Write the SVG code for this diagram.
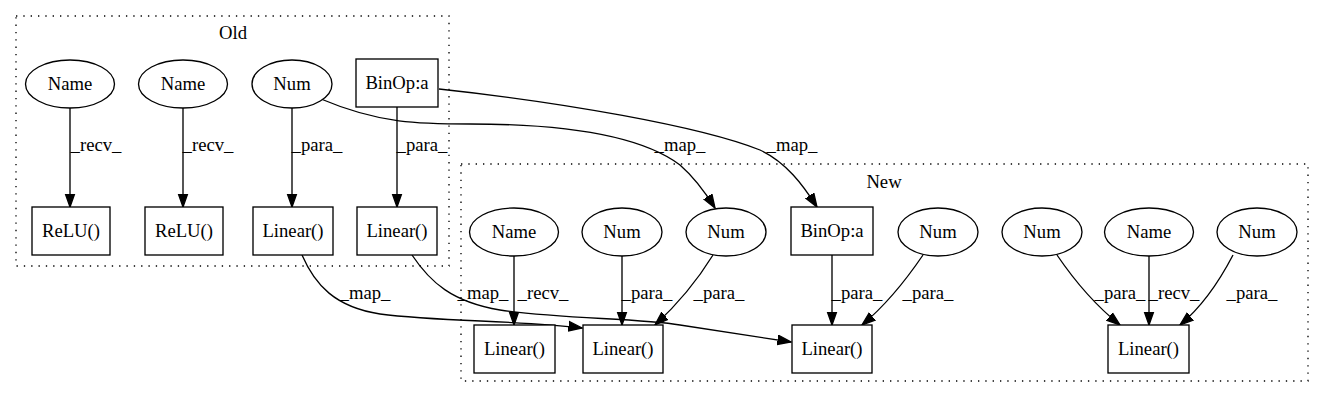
<svg xmlns="http://www.w3.org/2000/svg" width="1324" height="400" viewBox="0 0 1324 400">
<style>
.n{fill:#fff;stroke:#000;stroke-width:1.33}
.cl{fill:none;stroke:#000;stroke-width:1.33;stroke-dasharray:1.33,6}
.e{fill:none;stroke:#000;stroke-width:1.33;marker-end:url(#ah)}
</style>
<defs>
<marker id="ah" markerUnits="userSpaceOnUse" markerWidth="16" markerHeight="12" viewBox="-13.5 -6 16 12" refX="0" refY="0" orient="auto">
<path d="M-13.3,-4.7 L0,0 L-13.3,4.7 Z" fill="#000" stroke="#000" stroke-width="1.33"/>
</marker>
</defs>
<rect width="1324" height="400" fill="#fff"/>
<g id="cluster_old">
<rect class="cl" x="16" y="16" width="433" height="250"/>
<text x="233" y="39" font-family="Liberation Serif" font-size="18.67" text-anchor="middle">Old</text>
</g>
<g id="cluster_new">
<rect class="cl" x="461" y="164" width="847" height="217"/>
<text x="884" y="188" font-family="Liberation Serif" font-size="18.67" text-anchor="middle">New</text>
</g>
<g id="connectors">
<path class="e" d="M70,108 L70,207"/>
<text x="96" y="151" font-family="Liberation Serif" font-size="18.67" text-anchor="middle">_recv_</text>
<path class="e" d="M183,108 L183,207"/>
<text x="208" y="151" font-family="Liberation Serif" font-size="18.67" text-anchor="middle">_recv_</text>
<path class="e" d="M292,108 L292,207"/>
<text x="317" y="151" font-family="Liberation Serif" font-size="18.67" text-anchor="middle">_para_</text>
<path class="e" d="M397,107 L397,207"/>
<text x="422" y="151" font-family="Liberation Serif" font-size="18.67" text-anchor="middle">_para_</text>
<path class="e" d="M321,99 C380,124 420,124 470,124 C560,124 640,135 680,165 C695,178 705,192 715,208"/>
<text x="680" y="151" font-family="Liberation Serif" font-size="18.67" text-anchor="middle">_map_</text>
<path class="e" d="M439,89 C560,102 700,126 760,150 C786,162 803,185 817,207"/>
<text x="792" y="151" font-family="Liberation Serif" font-size="18.67" text-anchor="middle">_map_</text>
<path class="e" d="M302,255 C315,285 335,307 380,314 C440,322 520,320 582,328"/>
<text x="365" y="299" font-family="Liberation Serif" font-size="18.67" text-anchor="middle">_map_</text>
<path class="e" d="M412,255 C430,282 452,302 500,310 C560,319 640,318 680,325 C720,331 760,337 791,342"/>
<text x="483" y="299" font-family="Liberation Serif" font-size="18.67" text-anchor="middle">_map_</text>
<path class="e" d="M514,256 L514,325"/>
<text x="543" y="299" font-family="Liberation Serif" font-size="18.67" text-anchor="middle">_recv_</text>
<path class="e" d="M622,256 L622,325"/>
<text x="647" y="299" font-family="Liberation Serif" font-size="18.67" text-anchor="middle">_para_</text>
<path class="e" d="M713,255 C700,276 680,302 655,325"/>
<text x="719" y="299" font-family="Liberation Serif" font-size="18.67" text-anchor="middle">_para_</text>
<path class="e" d="M832,255 L832,325"/>
<text x="857" y="299" font-family="Liberation Serif" font-size="18.67" text-anchor="middle">_para_</text>
<path class="e" d="M923,255 C906,280 886,305 862,325"/>
<text x="928" y="299" font-family="Liberation Serif" font-size="18.67" text-anchor="middle">_para_</text>
<path class="e" d="M1057,255 C1074,280 1095,305 1120,325"/>
<text x="1120" y="299" font-family="Liberation Serif" font-size="18.67" text-anchor="middle">_para_</text>
<path class="e" d="M1149,256 L1149,325"/>
<text x="1174" y="299" font-family="Liberation Serif" font-size="18.67" text-anchor="middle">_recv_</text>
<path class="e" d="M1233,255 C1220,280 1204,305 1180,325"/>
<text x="1252" y="299" font-family="Liberation Serif" font-size="18.67" text-anchor="middle">_para_</text>
</g>
<g id="old_name1"><ellipse class="n" cx="70" cy="84" rx="44.5" ry="24"/><text x="70" y="90" font-family="Liberation Serif" font-size="18.67" text-anchor="middle">Name</text></g>
<g id="old_name2"><ellipse class="n" cx="183" cy="84" rx="44.5" ry="24"/><text x="183" y="90" font-family="Liberation Serif" font-size="18.67" text-anchor="middle">Name</text></g>
<g id="old_num"><ellipse class="n" cx="292" cy="84" rx="40" ry="24"/><text x="292" y="90" font-family="Liberation Serif" font-size="18.67" text-anchor="middle">Num</text></g>
<g id="old_binop"><rect class="n" x="356" y="59" width="82" height="48"/><text x="397" y="89" font-family="Liberation Serif" font-size="18.67" text-anchor="middle">BinOp:a</text></g>
<g id="old_relu1"><rect class="n" x="32" y="207" width="78" height="48"/><text x="71" y="237" font-family="Liberation Serif" font-size="18.67" text-anchor="middle">ReLU()</text></g>
<g id="old_relu2"><rect class="n" x="145" y="207" width="78" height="48"/><text x="184" y="237" font-family="Liberation Serif" font-size="18.67" text-anchor="middle">ReLU()</text></g>
<g id="old_linear1"><rect class="n" x="253" y="207" width="80" height="48"/><text x="293" y="237" font-family="Liberation Serif" font-size="18.67" text-anchor="middle">Linear()</text></g>
<g id="old_linear2"><rect class="n" x="357" y="207" width="80" height="48"/><text x="397" y="237" font-family="Liberation Serif" font-size="18.67" text-anchor="middle">Linear()</text></g>
<g id="new_name1"><ellipse class="n" cx="514" cy="232" rx="44.5" ry="24"/><text x="514" y="238" font-family="Liberation Serif" font-size="18.67" text-anchor="middle">Name</text></g>
<g id="new_num1"><ellipse class="n" cx="622" cy="232" rx="40" ry="24"/><text x="622" y="238" font-family="Liberation Serif" font-size="18.67" text-anchor="middle">Num</text></g>
<g id="new_num2"><ellipse class="n" cx="726" cy="232" rx="40" ry="24"/><text x="726" y="238" font-family="Liberation Serif" font-size="18.67" text-anchor="middle">Num</text></g>
<g id="new_binop"><rect class="n" x="791" y="207" width="82" height="48"/><text x="832" y="237" font-family="Liberation Serif" font-size="18.67" text-anchor="middle">BinOp:a</text></g>
<g id="new_num3"><ellipse class="n" cx="938" cy="232" rx="40" ry="24"/><text x="938" y="238" font-family="Liberation Serif" font-size="18.67" text-anchor="middle">Num</text></g>
<g id="new_num4"><ellipse class="n" cx="1042" cy="232" rx="40" ry="24"/><text x="1042" y="238" font-family="Liberation Serif" font-size="18.67" text-anchor="middle">Num</text></g>
<g id="new_name2"><ellipse class="n" cx="1149" cy="232" rx="44.5" ry="24"/><text x="1149" y="238" font-family="Liberation Serif" font-size="18.67" text-anchor="middle">Name</text></g>
<g id="new_num5"><ellipse class="n" cx="1257" cy="232" rx="40" ry="24"/><text x="1257" y="238" font-family="Liberation Serif" font-size="18.67" text-anchor="middle">Num</text></g>
<g id="new_linear_a"><rect class="n" x="474" y="325" width="81" height="48"/><text x="514.5" y="355" font-family="Liberation Serif" font-size="18.67" text-anchor="middle">Linear()</text></g>
<g id="new_linear_b"><rect class="n" x="583" y="325" width="80" height="48"/><text x="623" y="355" font-family="Liberation Serif" font-size="18.67" text-anchor="middle">Linear()</text></g>
<g id="new_linear_c"><rect class="n" x="792" y="325" width="80" height="48"/><text x="832" y="355" font-family="Liberation Serif" font-size="18.67" text-anchor="middle">Linear()</text></g>
<g id="new_linear_d"><rect class="n" x="1108" y="325" width="81" height="48"/><text x="1148.5" y="355" font-family="Liberation Serif" font-size="18.67" text-anchor="middle">Linear()</text></g>
</svg>
